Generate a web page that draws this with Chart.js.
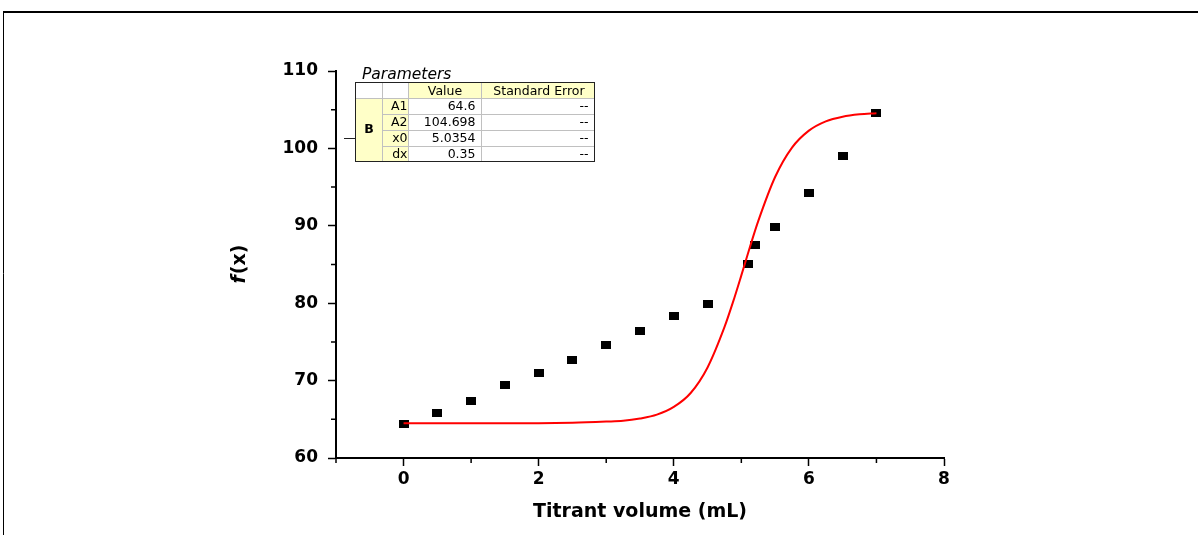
<!DOCTYPE html>
<html>
<head>
<meta charset="utf-8">
<script src="https://cdn.jsdelivr.net/npm/chart.js@4.4.0/dist/chart.umd.min.js"></script>
<style>
  html, body { margin: 0; padding: 0; background: #fff; }
  #wrap { width: 1198px; height: 535px; }
</style>
</head>
<body>
<div id="wrap"><canvas id="myChart" width="1198" height="535"></canvas></div>
<script>
// measured points
const volume = [0, 0.5, 1, 1.5, 2, 2.5, 3, 3.5, 4, 4.5, 5.1, 5.2, 5.5, 6, 6.5, 7];
const fx = [64.4, 65.8, 67.4, 69.4, 71.0, 72.7, 74.6, 76.4, 78.3, 79.9, 85.1, 87.5, 89.8, 94.2, 99.0, 104.6];

// fitted curve
const fitX = [0, 1, 2, 2.5, 3, 3.25, 3.5, 3.75, 4, 4.25, 4.5, 4.75, 4.875, 5, 5.125, 5.25, 5.5, 5.75, 6, 6.25, 6.5, 6.75, 7];
const fitY = [64.5, 64.5, 64.5, 64.55, 64.7, 64.8, 65.1, 65.6, 66.6, 68.4, 71.7, 76.9, 80.1, 83.6, 87.2, 90.6, 96.3, 100.1, 102.3, 103.5, 104.1, 104.4, 104.55];

const xMajor = [0, 2, 4, 6, 8];
const xMinor = [-1, 1, 3, 5, 7];
const yMajor = [60, 70, 80, 90, 100, 110];
const yMinor = [65, 75, 85, 95, 105];

const xTitle = 'Titrant volume (mL)';

// parameter table
const paramGroup = 'B';
const paramNames = ['A1', 'A2', 'x0', 'dx'];
const paramValues = ['64.6', '104.698', '5.0354', '0.35'];
const paramErrors = ['--', '--', '--', '--'];

const tickFont = { family: 'DejaVu Sans', size: 17, weight: 'bold' };

// black rectangle marker
const marker = document.createElement('canvas');
marker.width = 10;
marker.height = 8;
const mctx = marker.getContext('2d');
mctx.fillStyle = '#000';
mctx.fillRect(0, 0, 10, 8);

const extras = {
    id: 'extras',
    afterDraw(chart) {
        const ctx = chart.ctx;
        const xs = chart.scales.x, ys = chart.scales.y;
        const area = chart.chartArea;
        ctx.save();

        // page frame
        ctx.strokeStyle = '#000';
        ctx.lineWidth = 2;
        ctx.beginPath();
        ctx.moveTo(3, 12);
        ctx.lineTo(1198, 12);
        ctx.stroke();
        ctx.lineWidth = 1;
        ctx.beginPath();
        ctx.moveTo(3.5, 12);
        ctx.lineTo(3.5, 535);
        ctx.stroke();

        // minor ticks
        ctx.lineWidth = 1.5;
        ctx.beginPath();
        xMinor.forEach(v => {
            const p = xs.getPixelForValue(v);
            ctx.moveTo(p, area.bottom);
            ctx.lineTo(p, area.bottom + 5);
        });
        yMinor.forEach(v => {
            const p = ys.getPixelForValue(v);
            ctx.moveTo(area.left, p);
            ctx.lineTo(area.left - 5, p);
        });
        ctx.stroke();

        // y title: italic f + (x)
        ctx.translate(area.left - 96, (area.top + area.bottom) / 2);
        ctx.rotate(-Math.PI / 2);
        ctx.fillStyle = '#000';
        ctx.textBaseline = 'middle';
        const f1 = 'italic bold 19px "DejaVu Sans"';
        const f2 = 'bold 19px "DejaVu Sans"';
        ctx.font = f1;
        const w1 = ctx.measureText('f').width;
        ctx.font = f2;
        const w2 = ctx.measureText('(x)').width;
        ctx.font = f1;
        ctx.textAlign = 'left';
        ctx.fillText('f', -(w1 + w2) / 2, 0);
        ctx.font = f2;
        ctx.fillText('(x)', -(w1 + w2) / 2 + w1 + 1, 0);
        ctx.restore();

        // parameter table
        ctx.save();
        const L = 355.5, T = 82.5, R = 594.5, B = 161.5;
        const cols = [L, 382.5, 408.5, 481.5, R];
        const rh = (B - T) / 5;
        ctx.fillStyle = '#ffffc8';
        ctx.fillRect(cols[2], T, cols[4] - cols[2], rh);
        ctx.fillRect(cols[0], T + rh, cols[2] - cols[0], B - T - rh);
        ctx.strokeStyle = '#c0c0c0';
        ctx.lineWidth = 1;
        ctx.beginPath();
        for (let i = 1; i < 5; i++) {
            const y = Math.round(T + rh * i) + 0.5;
            ctx.moveTo(i === 1 ? cols[0] : cols[1], y);
            ctx.lineTo(R, y);
        }
        for (let i = 1; i < 4; i++) {
            ctx.moveTo(cols[i], T);
            ctx.lineTo(cols[i], B);
        }
        ctx.stroke();
        ctx.strokeStyle = '#222';
        ctx.strokeRect(L, T, R - L, B - T);
        ctx.beginPath();
        ctx.moveTo(344, 138.5);
        ctx.lineTo(L, 138.5);
        ctx.stroke();

        ctx.fillStyle = '#000';
        ctx.font = 'italic 15.5px "DejaVu Sans"';
        ctx.textAlign = 'left';
        ctx.textBaseline = 'alphabetic';
        ctx.fillText('Parameters', 362, 79);

        ctx.font = '12.5px "DejaVu Sans"';
        ctx.textBaseline = 'middle';
        ctx.textAlign = 'center';
        ctx.fillText('Value', (cols[2] + cols[3]) / 2, T + rh / 2 + 1);
        ctx.fillText('Standard Error', (cols[3] + cols[4]) / 2 + 1, T + rh / 2 + 1);
        ctx.font = 'bold 12.5px "DejaVu Sans"';
        ctx.fillText(paramGroup, (cols[0] + cols[1]) / 2, (T + rh + B) / 2);
        ctx.font = '12.5px "DejaVu Sans"';
        paramNames.forEach((n, i) => {
            const y = T + rh * (i + 1.5) + 1;
            ctx.textAlign = 'right';
            ctx.fillText(n, cols[2] - 1, y);
            ctx.fillText(paramValues[i], cols[3] - 6, y);
            ctx.fillText(paramErrors[i], cols[4] - 6, y);
        });
        ctx.restore();
    }
};

new Chart(document.getElementById('myChart'), {
    type: 'scatter',
    data: {
        datasets: [{
            type: 'line',
            label: 'Fit',
            data: fitX.map((x, i) => ({ x: x, y: fitY[i] })),
            borderColor: '#ff0000',
            borderWidth: 2,
            pointRadius: 0,
            cubicInterpolationMode: 'monotone',
            fill: false
        }, {
            label: 'B',
            data: volume.map((x, i) => ({ x: x, y: fx[i] })),
            pointStyle: marker,
            pointRadius: 5,
            backgroundColor: '#000',
            borderColor: '#000'
        }]
    },
    options: {
        responsive: false,
        animation: false,
        layout: { padding: { left: 0, top: 71, right: 254, bottom: 0 } },
        plugins: {
            legend: { display: false },
            tooltip: { enabled: false }
        },
        scales: {
            x: {
                type: 'linear',
                min: -1,
                max: 8,
                afterBuildTicks: s => { s.ticks = xMajor.map(v => ({ value: v })); },
                afterFit: s => { s.height = 77; },
                grid: { drawOnChartArea: false, tickLength: 8, tickWidth: 1.5, tickColor: '#000' },
                border: { color: '#000', width: 2 },
                ticks: { font: tickFont, color: '#000', padding: 3, maxRotation: 0 },
                title: {
                    display: true,
                    text: xTitle,
                    color: '#000',
                    font: { family: 'DejaVu Sans', size: 19, weight: 'bold' },
                    padding: { top: 0, bottom: 12 }
                }
            },
            y: {
                min: 60,
                max: 110,
                afterBuildTicks: s => { s.ticks = yMajor.map(v => ({ value: v })); },
                afterFit: s => { s.width = 336; },
                grid: { drawOnChartArea: false, tickLength: 8, tickWidth: 1.5, tickColor: '#000' },
                border: { color: '#000', width: 2 },
                ticks: { font: tickFont, color: '#000', padding: 10 }
            }
        }
    },
    plugins: [extras]
});
</script>
</body>
</html>
